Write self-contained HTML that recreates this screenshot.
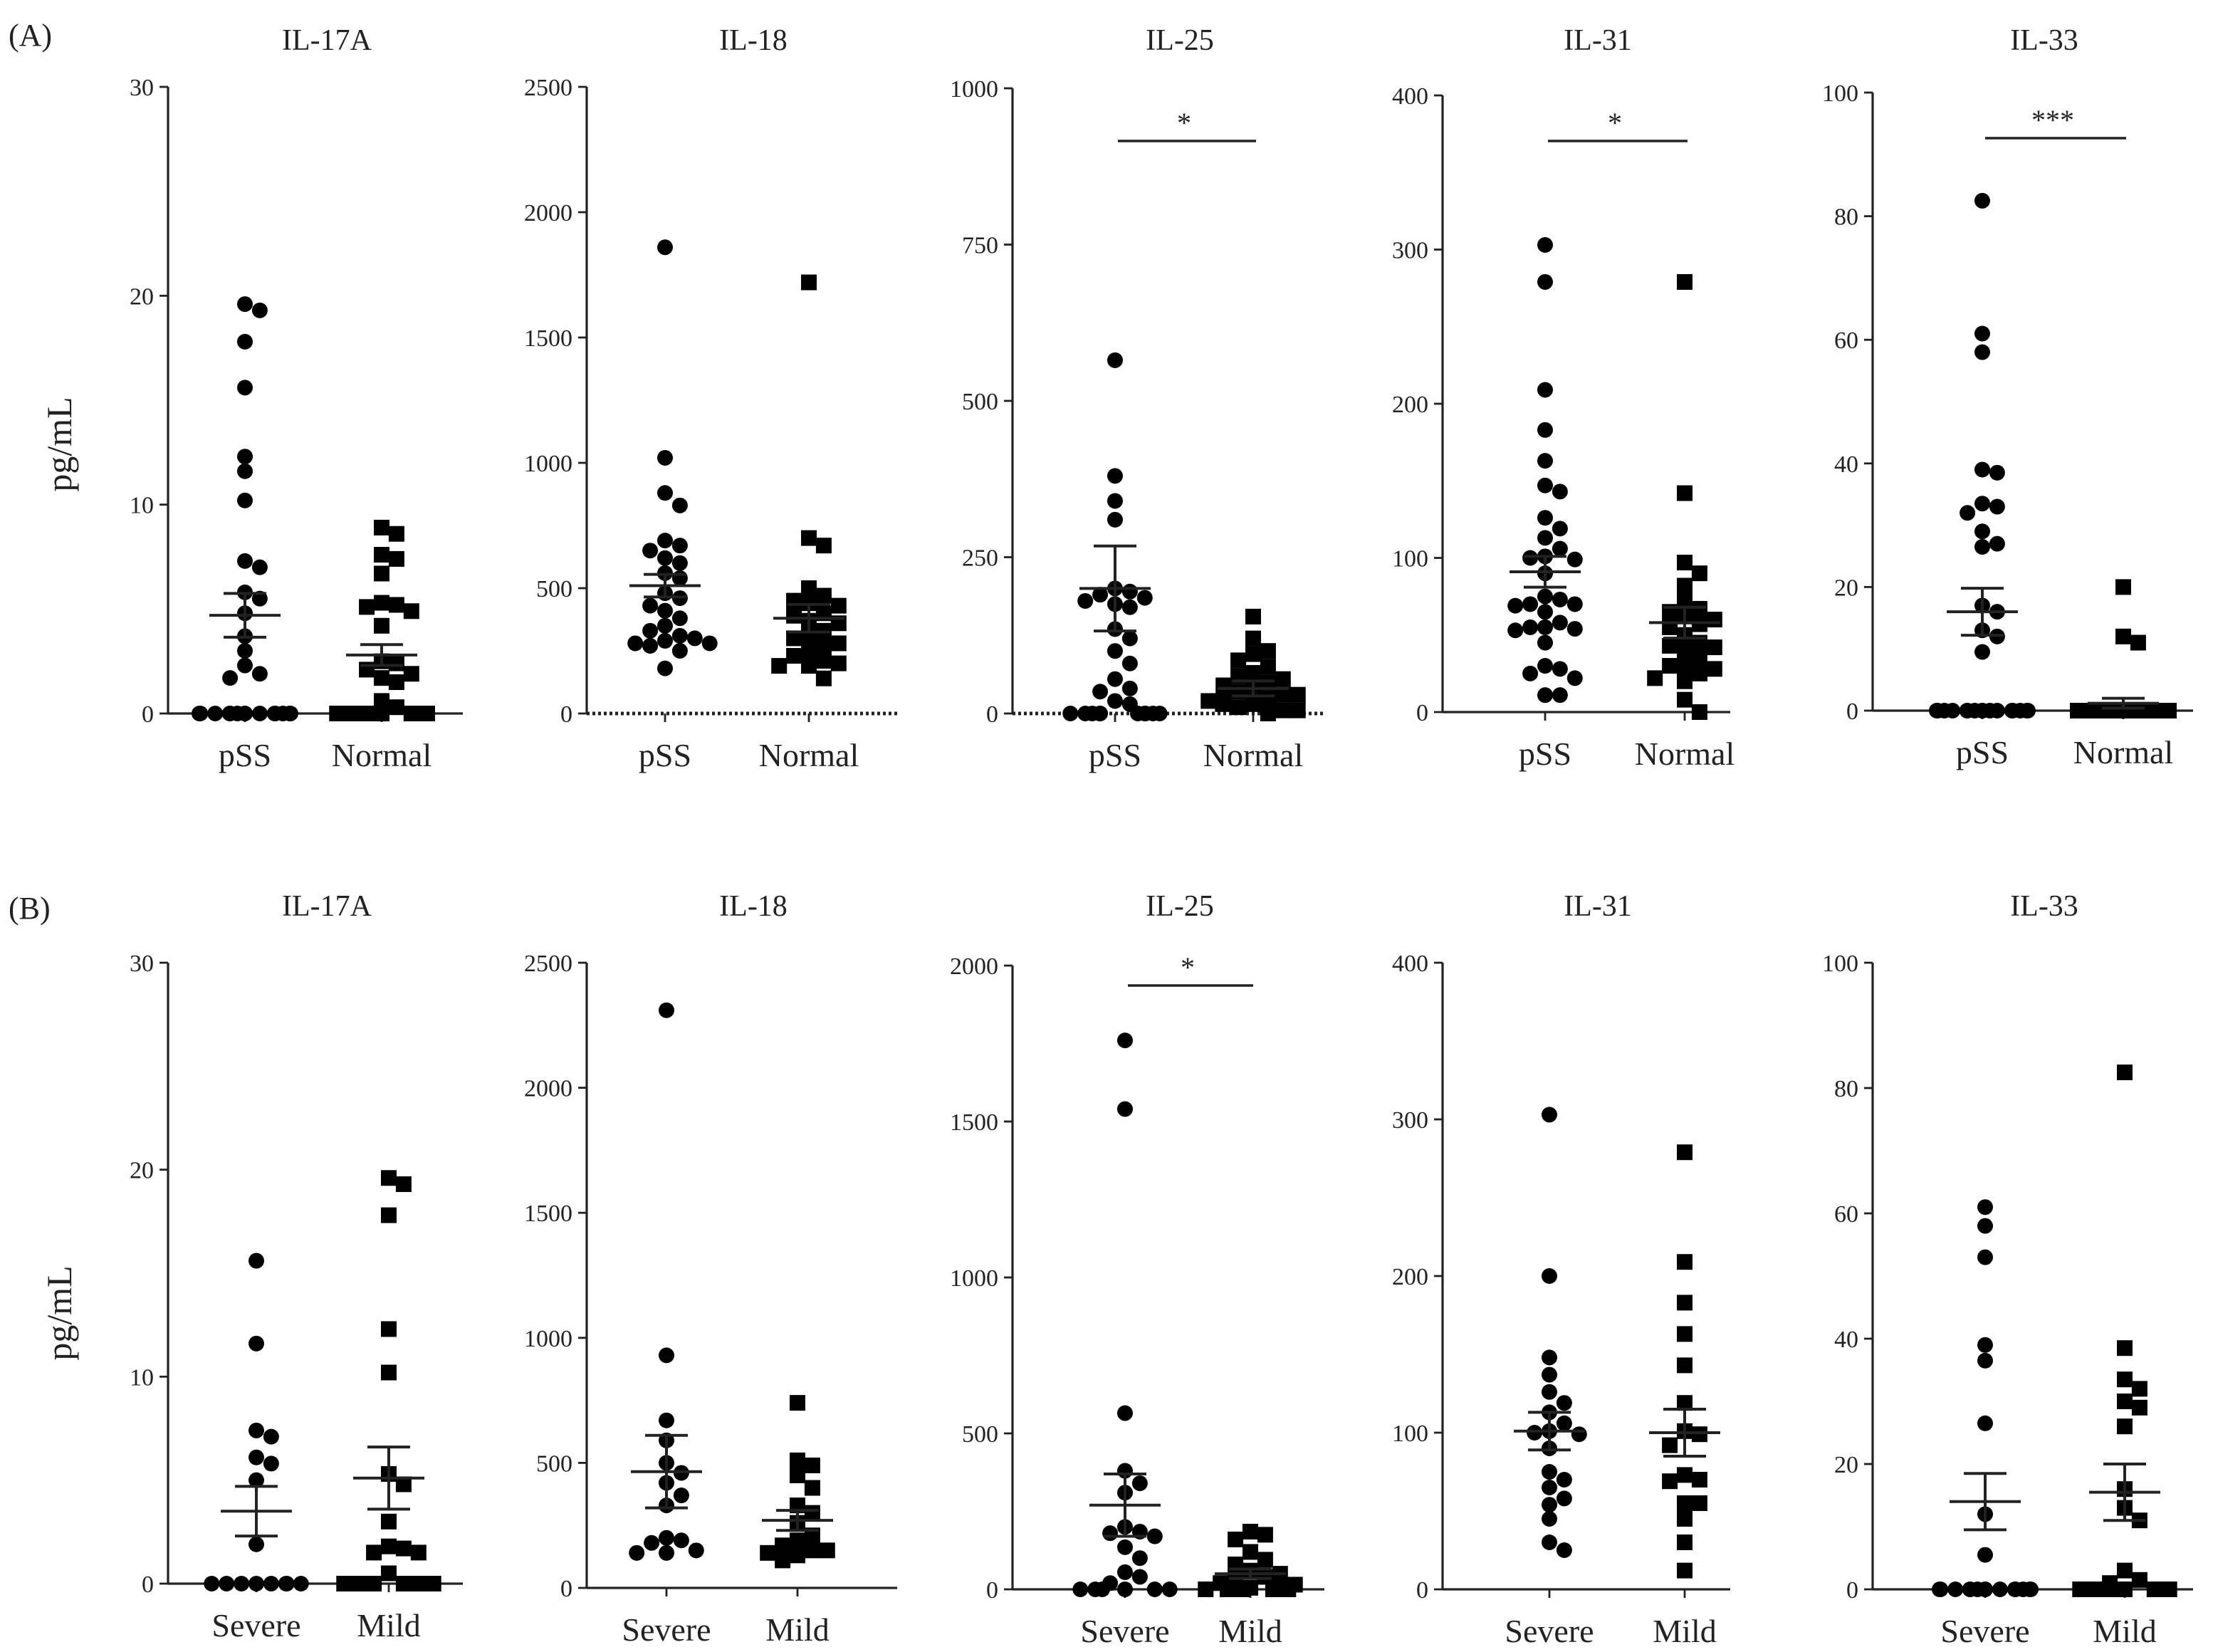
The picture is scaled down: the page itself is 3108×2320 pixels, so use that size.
<!DOCTYPE html>
<html><head><meta charset="utf-8"><style>
html,body{margin:0;padding:0;background:#fff}
svg{display:block}
text{font-family:"Liberation Serif",serif;fill:#222}
</style></head><body>
<svg id="fig" width="3108" height="2320" viewBox="0 0 1554 1160" xmlns="http://www.w3.org/2000/svg">
<text x="6" y="32" font-size="22">(A)</text>
<text x="6" y="645" font-size="22">(B)</text>
<text transform="translate(50,312) rotate(-90)" text-anchor="middle" font-size="25">pg/mL</text>
<text transform="translate(50,922) rotate(-90)" text-anchor="middle" font-size="25">pg/mL</text>
</svg>
<script>
const titles = ["IL-17A","IL-18","IL-25","IL-31","IL-33","IL-17A","IL-18","IL-25","IL-31","IL-33"];
const groupsA = ["pSS","Normal"];
const groupsB = ["Severe","Mild"];
const yMax = [30,2500,1000,400,100,30,2500,2000,400,100];
const tickLabels = [[0,10,20,30],[0,500,1000,1500,2000,2500],[0,250,500,750,1000],[0,100,200,300,400],[0,20,40,60,80,100],
 [0,10,20,30],[0,500,1000,1500,2000,2500],[0,500,1000,1500,2000],[0,100,200,300,400],[0,20,40,60,80,100]];
const sigLabels = ["","","*","*","***","","","*","",""];
const seriesA = [[19.6,19.3,17.8,15.6,12.3,11.6,10.2,7.3,7.0,5.8,5.5,4.8,3.7,3.0,2.3,1.9,1.7,0,0,0,0,0,0,0,0,0,0,0,0,0,0],
 [1860,1020,880,830,690,670,650,620,600,560,540,480,460,430,410,380,350,330,310,300,290,280,280,270,250,180],
 [565,380,340,310,200,195,190,185,180,175,170,135,120,100,80,55,40,35,20,15,0,0,0,0,0,0,0,0,0,0],
 [303,279,209,183,163,147,143,126,119,113,106,101,100,99,90,75,73,70,70,69,65,58,55,55,54,53,45,30,28,25,22,11,11],
 [82.5,61,58,39,38.5,33.5,33,32,29,27,26.5,17,16,13,12,9.5,0,0,0,0,0,0,0,0,0,0,0,0,0,0,0,0],
 [15.6,11.6,7.4,7.1,6.1,5.8,5.0,1.9,0,0,0,0,0,0,0,0],
 [2310,930,670,590,500,460,420,370,330,200,190,180,150,140,140],
 [1760,1540,565,380,340,310,200,185,180,170,135,100,55,40,20,0,0,0,0,0,0],
 [303,200,148,137,126,119,113,106,101,100,99,90,75,70,65,58,54,45,30,25],
 [61,58,53,39,36.5,26.5,12,5.5,0,0,0,0,0,0,0,0,0,0,0,0,0,0]];
const seriesB = [[8.9,8.6,7.6,7.4,6.7,5.3,5.2,5.1,4.9,4.2,2.5,2.4,2.1,1.9,1.7,1.5,0.6,0.3,0,0,0,0,0,0,0,0,0,0,0,0],
 [1720,700,670,500,470,450,440,430,400,390,370,360,330,310,300,280,270,250,230,210,200,190,190,140],
 [155,120,100,95,85,75,65,60,55,50,45,40,35,30,30,25,20,20,15,15,10,5,5,0],
 [279,142,97,90,82,72,67,65,62,60,57,55,50,45,43,42,40,35,30,30,28,25,22,20,8,0],
 [20,12,11,0,0,0,0,0,0,0,0,0,0,0,0,0,0,0,0,0,0,0,0,0,0,0,0,0],
 [19.6,19.3,17.8,12.3,10.2,5.3,4.8,3.0,1.8,1.7,1.5,1.5,0.5,0,0,0,0,0,0,0,0,0,0],
 [740,510,490,450,400,330,300,260,210,190,170,150,150,140,130,110],
 [185,175,160,120,95,80,60,50,40,30,20,15,5,0,0,0,0,0,0,0,0],
 [279,209,183,163,143,119,101,99,92,73,70,69,55,55,45,30,12],
 [82.5,38.5,33.5,32,30,29,26,16,13,11,3,1.5,1,0,0,0,0,0,0,0,0,0,0]];
const meanA = [4.7,510,200,91,16,3.5,465,270,101,14];
const semA = [1.05,45,68,10,3.8,1.2,145,100,12,4.5];
const meanB = [2.8,380,40,58,1.2,5.1,270,50,100,15.5];
const semB = [0.5,55,12,10,0.8,1.5,40,15,15,4.5];

const NS="http://www.w3.org/2000/svg";
const svg=document.getElementById('fig');
const axX=[118,412,711,1013,1315];
const axEnd=[325,630,930,1215,1540];
const gx=[[172,268],[467,568],[783,880],[1085,1183],[1392,1491]];
const gxB=[[180,273],[468,560],[790,878],[1088,1183],[1394,1492]];
const topA=[61,61,62,67,65], botA=[501,501,501,500,499];
const topB=[676,676,678,676,676], botB=[1112,1115,1116,1116,1116];
const dotted=[false,true,true,false,false,false,false,false,false,false];
function mk(tag,attrs,parent){const e=document.createElementNS(NS,tag);for(const k in attrs)e.setAttribute(k,attrs[k]);(parent||svg).appendChild(e);return e;}
function swarm(vals,yf,r){
  const placed=[];const out=[];const maxOff=32;
  const cands=[];
  for(let k=0;k<40;k++){const c=(k%2?1:-1)*Math.ceil(k/2)*(r*1.9);if(Math.abs(c)<=maxOff)cands.push(c);}
  vals.forEach(v=>{const y=yf(v);let off=null;
    for(const c of cands){
      if(placed.every(p=>Math.hypot(p[0]-c,p[1]-y)>=r*1.8)){off=c;break;}}
    if(off===null){
      const same=placed.filter(p=>Math.abs(p[1]-y)<r).length;
      const n=same;
      off=-maxOff+((n*7)%13)/12*2*maxOff;
    }
    placed.push([off,y]);out.push([off,y]);});
  return out;
}
for(let p=0;p<10;p++){
  const row=p<5?0:1, c=p%5;
  const x0=axX[c], x1=axEnd[c];
  const top=row?topB[c]:topA[c], bot=row?botB[c]:botA[c];
  const gxs=row?gxB[c]:gx[c];
  const groups=row?groupsB:groupsA;
  const y=v=>bot-(v/yMax[p])*(bot-top);
  const g=mk('g',{});
  
  
  const t=mk('text',{x:(x0+x1)/2+8,y:row?643:35,'text-anchor':'middle','font-size':21},g);t.textContent=titles[p];
  
  
  const ya=mk('line',{x1:x0,y1:top,x2:x0,y2:bot,stroke:'#222','stroke-width':1.6},g);
  
  
  const xa=mk('line',{x1:x0,y1:bot,x2:x1,y2:bot,stroke:'#222','stroke-width':dotted[p]?2.5:1.6,'stroke-dasharray':dotted[p]?'2,2':'none'},g);
  
  
  tickLabels[p].forEach(v=>{const yy=y(v);
    mk('line',{x1:x0-6,y1:yy,x2:x0,y2:yy,stroke:'#222','stroke-width':1.4},g);
    const tl=mk('text',{x:x0-10,y:yy+6,'text-anchor':'end','font-size':17},g);tl.textContent=v;
    
    });
  [0,1].forEach(gi=>{const cx=gxs[gi];
    mk('line',{x1:cx,y1:bot,x2:cx,y2:bot+6,stroke:'#222','stroke-width':1.4},g);
    const lb=mk('text',{x:cx,y:bot+37,'text-anchor':'middle','font-size':23},g);lb.textContent=groups[gi];
    
    
    const vals=gi?seriesB[p]:seriesA[p];
    const r=5.5;
    swarm(vals,y,r).forEach(([o,yy])=>{
      let m;
      if(gi===0) m=mk('circle',{cx:cx+o,cy:yy,r:r,fill:'#000'},g);
      else m=mk('rect',{x:cx+o-r,y:yy-r,width:2*r,height:2*r,fill:'#000'},g);
      
      
    });
    const mu=gi?meanB[p]:meanA[p], se=gi?semB[p]:semA[p];
    const ml=mk('line',{x1:cx-25,y1:y(mu),x2:cx+25,y2:y(mu),stroke:'#222','stroke-width':2},g);
    
    
    mk('line',{x1:cx,y1:y(mu+se),x2:cx,y2:y(Math.max(0,mu-se)),stroke:'#222','stroke-width':2},g);
    mk('line',{x1:cx-15,y1:y(mu+se),x2:cx+15,y2:y(mu+se),stroke:'#222','stroke-width':2},g);
    mk('line',{x1:cx-15,y1:y(Math.max(0,mu-se)),x2:cx+15,y2:y(Math.max(0,mu-se)),stroke:'#222','stroke-width':2},g);
  });
  if(sigLabels[p]){const sy=row?692:(c===4?97:99);
    const sb=mk('line',{x1:gxs[0]+2,y1:sy,x2:gxs[1]+2,y2:sy,stroke:'#222','stroke-width':1.8},g);
    
    
    const st=mk('text',{x:(gxs[0]+gxs[1])/2,y:sy-6,'text-anchor':'middle','font-size':20},g);st.textContent=sigLabels[p];
    
    }
}
</script>
</body></html>
